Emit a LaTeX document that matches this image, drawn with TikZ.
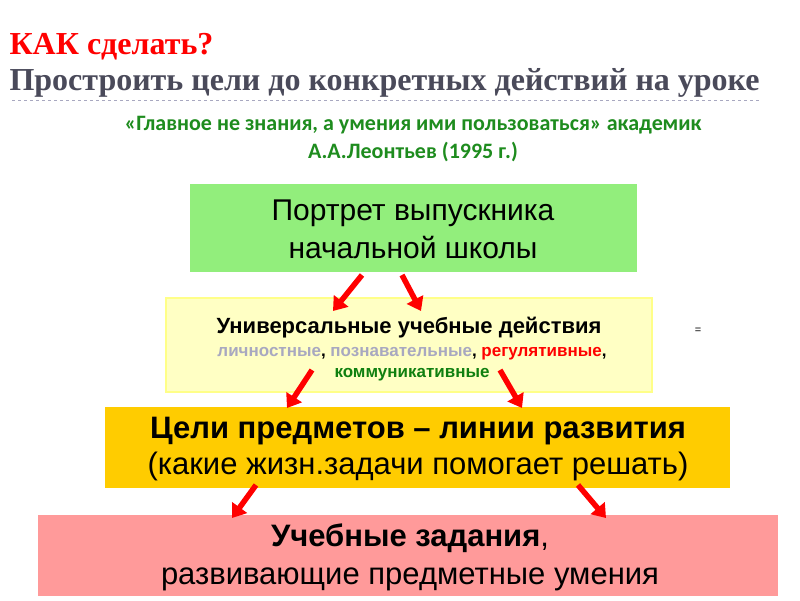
\documentclass[tikz,border=0pt]{standalone}
\usepackage{fontspec}
\setmainfont{Liberation Sans}
\newfontfamily\titlef{Liberation Serif}
\newfontfamily\calf{Carlito}
\usetikzlibrary{arrows.meta}
\definecolor{tgray}{HTML}{4A4A5A}
\definecolor{qgreen}{HTML}{1E8C1E}
\definecolor{bgreen}{HTML}{92EE7C}
\definecolor{byellow}{HTML}{FFFFC4}
\definecolor{byellowb}{HTML}{FFFF88}
\definecolor{borange}{HTML}{FFCC00}
\definecolor{bpink}{HTML}{FF9A9A}
\definecolor{lgray}{HTML}{A8A8C0}
\definecolor{cgreen}{HTML}{108010}
\tikzset{
  box/.style={draw=none, inner sep=0pt, align=center},
  redarrow/.style={draw=red, line width=5.5pt, -{Triangle[length=13pt,width=18pt]}}
}
\begin{document}
\begin{tikzpicture}[x=1pt,y=-1pt]
\useasboundingbox[fill=white] (0,0) rectangle (800,600);
\node[anchor=west, text=red, font=\titlef\bfseries\fontsize{32}{34}\selectfont] (t1) at (6,47) {КАК сделать?};
\node[anchor=west, text=tgray, font=\titlef\bfseries\fontsize{32}{34}\selectfont] (t2) at (6,83) {Простроить цели до конкретных действий на уроке};
\draw[lgray, dashed, line width=0.6pt] (12,100) -- (760,100);
\node[text=qgreen, align=center, font=\calf\bfseries\fontsize{22}{28}\selectfont] (q) at (413,139) {«Главное не знания, а умения ими пользоваться» академик\\А.А.Леонтьев (1995 г.)};
\fill[bgreen] (190,184) rectangle (637,272);
\node[box, font=\fontsize{30}{38}\selectfont] (g) at (413,229) {Портрет выпускника\\начальной школы};
\filldraw[fill=byellow, draw=byellowb, line width=2pt] (166,298) rectangle (652,392);
\node[box, font=\bfseries\fontsize{22}{24}\selectfont] (y1) at (409,328) {Универсальные учебные действия};
\node[box, font=\bfseries\fontsize{17}{21}\selectfont] (y2) at (412,364) {\textcolor{lgray}{личностные}, \textcolor{lgray}{познавательные}, \textcolor{red}{регулятивные},\\\textcolor{cgreen}{коммуникативные}};
\node[font=\fontsize{11}{12}\selectfont] (eq) at (698,331) {=};
\fill[borange] (105,407) rectangle (730,488);
\node[box, font=\fontsize{31}{36}\selectfont] (o) at (418,449) {\textbf{Цели предметов – линии развития}\\(какие жизн.задачи помогает решать)};
\fill[bpink] (38,515) rectangle (778,596);
\node[box, font=\fontsize{31}{38}\selectfont] (p) at (410,557) {\textbf{Учебные задания},\\развивающие предметные умения};
\coordinate (a1) at (362,275); \coordinate (b1) at (333,311);
\coordinate (a2) at (402,275); \coordinate (b2) at (421,311);
\coordinate (a3) at (312,370); \coordinate (b3) at (287,408);
\coordinate (a4) at (500,370); \coordinate (b4) at (522,408);
\coordinate (a5) at (256,485); \coordinate (b5) at (232,518);
\coordinate (a6) at (578,485); \coordinate (b6) at (606,518);
\foreach \i in {1,...,6} \draw[redarrow] (a\i) -- (b\i);
\end{tikzpicture}
\end{document}
